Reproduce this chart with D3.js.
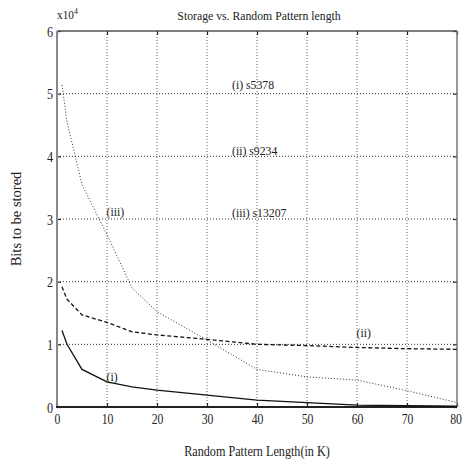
<!DOCTYPE html>
<html>
<head>
<meta charset="utf-8">
<script src="https://cdn.jsdelivr.net/npm/d3@7"></script>
<style>
  html, body { margin: 0; padding: 0; background: #fff; }
  svg { display: block; }
  text { font-family: "Liberation Serif", "Times New Roman", serif; fill: #222; }
</style>
</head>
<body>
<svg id="chart" width="462" height="459"></svg>
<script>
// ---- data (bits to be stored vs random pattern length in K) ----
const patternLengthK = [1, 2, 5, 10, 15, 20, 30, 40, 50, 60, 70, 80];
const s5378  = [12200, 10000, 6000, 4000, 3200, 2700, 1900, 1100, 700, 300, 200, 150];
const s9234  = [19200, 17200, 14700, 13500, 12000, 11500, 10800, 10000, 9800, 9500, 9300, 9200];
const s13207 = [51400, 45500, 35500, 27500, 19000, 15200, 10700, 6000, 4800, 4300, 2600, 700];
const xTicks = [0, 10, 20, 30, 40, 50, 60, 70, 80];
const yTicks = [0, 10000, 20000, 30000, 40000, 50000, 60000];
const seriesNames = ["(i)", "(ii)", "(iii)"];
const legendLabels = ["(i) s5378", "(ii) s9234", "(iii) s13207"];
// annotation anchors in data coordinates
const legendX = [35, 35, 35];
const legendY = [50700, 40200, 30300];
const curveLabelX = [9.9, 59.9, 9.9];
const curveLabelY = [4100, 11200, 30500];

const W = 462, H = 459;
const m = { left: 57, right: 5, top: 31, bottom: 52 };
const svg = d3.select("#chart");
const SX = 0.87, FS = 13.5;

const x = d3.scaleLinear().domain([0, 80]).range([m.left, W - m.right]);
const y = d3.scaleLinear().domain([0, 60000]).range([H - m.bottom, m.top]);

function txt(px, py, s, anchor, size) {
  const g = svg.append("g").attr("transform", `translate(${px},${py}) scale(${SX},1)`);
  return g.append("text").attr("text-anchor", anchor || "start")
    .attr("font-size", size || FS).text(s);
}

// grid lines
svg.append("g").selectAll("line.vg").data(xTicks.slice(1, -1)).join("line")
  .attr("x1", d => x(d)).attr("x2", d => x(d))
  .attr("y1", y(60000)).attr("y2", y(0))
  .attr("stroke", "#666").attr("stroke-width", 1).attr("stroke-dasharray", "1,2");
svg.append("g").selectAll("line.hg").data(yTicks.slice(1, -1)).join("line")
  .attr("x1", x(0)).attr("x2", x(80))
  .attr("y1", d => y(d)).attr("y2", d => y(d))
  .attr("stroke", "#333").attr("stroke-width", 1).attr("stroke-dasharray", "1,2");

// axes with inward ticks
const fmtY = d => d / 10000;
const axB = svg.append("g").attr("transform", `translate(0,${y(0)})`)
  .call(d3.axisBottom(x).tickValues(xTicks).tickSize(-4).tickPadding(10).tickFormat(d3.format("d")));
const axT = svg.append("g").attr("transform", `translate(0,${y(60000)})`)
  .call(d3.axisTop(x).tickValues(xTicks).tickSize(-4).tickFormat(""));
const axL = svg.append("g").attr("transform", `translate(${x(0)},0)`)
  .call(d3.axisLeft(y).tickValues(yTicks).tickSize(-4).tickPadding(7).tickFormat(fmtY));
const axR = svg.append("g").attr("transform", `translate(${x(80)},0)`)
  .call(d3.axisRight(y).tickValues(yTicks).tickSize(-4).tickFormat(""));
[axB, axT, axL, axR].forEach(a => {
  a.select(".domain").remove();
  a.selectAll(".tick line").attr("stroke", "#222").attr("stroke-width", 1.2);
});
// tick labels with compressed serif look
axB.selectAll(".tick text").each(function (d) {
  const t = d3.select(this);
  const tick = d3.select(this.parentNode);
  const s = t.text();
  t.remove();
  const shift = d === 80 ? -1.5 : 0;
  tick.append("g").attr("transform", `translate(${shift},17) scale(0.84,1)`)
    .append("text").attr("text-anchor", "middle").attr("font-size", 14).attr("fill", "#222").text(s);
});
axL.selectAll(".tick text").each(function () {
  const t = d3.select(this);
  const tick = d3.select(this.parentNode);
  const s = t.text();
  t.remove();
  tick.append("g").attr("transform", `translate(-4,5) scale(${SX},1)`)
    .append("text").attr("text-anchor", "end").attr("font-size", 14).attr("fill", "#222").text(s);
});

// frame
svg.append("line").attr("x1", x(0)).attr("x2", x(80)).attr("y1", y(60000)).attr("y2", y(60000))
  .attr("stroke", "#555").attr("stroke-width", 1.5);
svg.append("line").attr("x1", x(80)).attr("x2", x(80)).attr("y1", y(60000)).attr("y2", y(0))
  .attr("stroke", "#777").attr("stroke-width", 1.5);
svg.append("line").attr("x1", x(0)).attr("x2", x(0)).attr("y1", y(60000)).attr("y2", y(0) + 1)
  .attr("stroke", "#888").attr("stroke-width", 2);
svg.append("line").attr("x1", x(0) - 1).attr("x2", x(80)).attr("y1", y(0)).attr("y2", y(0))
  .attr("stroke", "#222").attr("stroke-width", 2);

// series
const line = d3.line().x((d, i) => x(patternLengthK[i])).y(d => y(d));
const seriesData = [s5378, s9234, s13207];
const styles = [
  { dash: null, w: 1.3, c: "#111" },
  { dash: "4,2.5", w: 1.3, c: "#111" },
  { dash: "1,2", w: 1, c: "#333" }
];
seriesData.forEach((vals, k) => {
  svg.append("path").datum(vals).attr("d", line)
    .attr("fill", "none").attr("stroke", styles[k].c)
    .attr("stroke-width", styles[k].w)
    .attr("stroke-dasharray", styles[k].dash);
});

// annotations
legendLabels.forEach((s, k) => txt(x(legendX[k]), y(legendY[k]), s, "start"));
seriesNames.forEach((s, k) => txt(x(curveLabelX[k]), y(curveLabelY[k]), s, "start"));

// title and axis labels
txt(259, 20, "Storage vs. Random Pattern length", "middle", 13.5);
txt(257, 456, "Random Pattern Length(in K)", "middle", 14);
svg.append("text").attr("transform", `translate(21,219) rotate(-90)`)
  .attr("text-anchor", "middle").attr("font-size", 14.5).text("Bits to be stored");

// exponent label
const ex = svg.append("g").attr("transform", `translate(57,19) scale(${SX},1)`).append("text")
  .attr("font-size", 13);
ex.append("tspan").text("x10");
ex.append("tspan").attr("dy", -5).attr("font-size", 9).text("4");
</script>
</body>
</html>
